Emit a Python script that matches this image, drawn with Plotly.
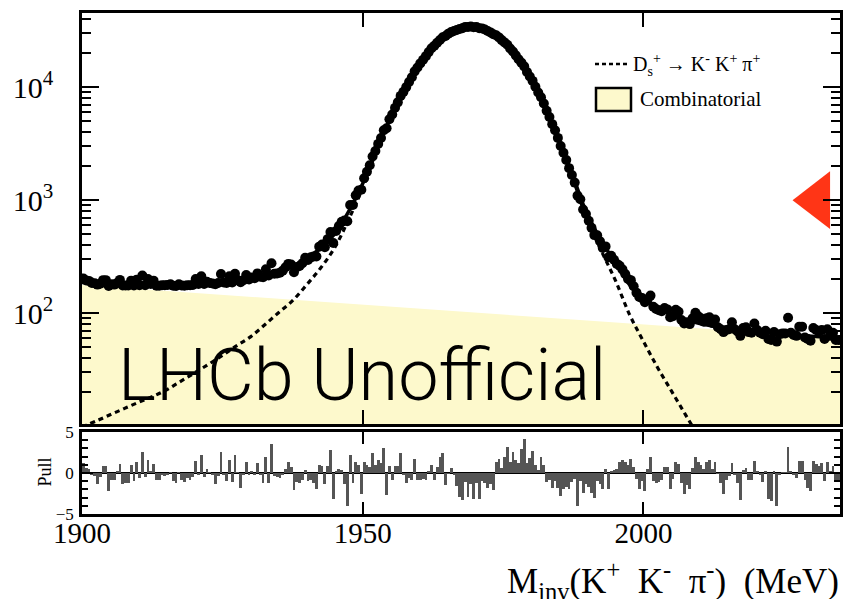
import numpy as np
import plotly.graph_objects as go

# ---------------- data ----------------
BIN_LO, BIN_W, N_BINS = 1900.0, 0.5, 270

data_counts = [
    203, 195, 193, 185, 184, 179, 182, 196, 196, 174,
    180, 179, 185, 197, 176, 176, 176, 194, 176, 198,
    177, 215, 177, 201, 181, 194, 175, 175, 177, 177,
    178, 180, 175, 174, 180, 176, 175, 177, 177, 178,
    201, 181, 212, 181, 190, 185, 183, 180, 185, 222,
    187, 185, 212, 187, 223, 196, 188, 196, 218, 199,
    207, 204, 225, 210, 208, 245, 216, 277,
    223, 225, 228, 238, 255, 273, 269, 230, 255, 262,
    277, 309, 296, 312, 318, 317, 388, 405, 383, 452,
    522, 418, 534, 590, 643, 660, 650, 907, 907, 1104,
    1219, 1237, 1564, 1784, 2040, 2437, 2725, 3151, 3556, 4162,
    4334, 5204, 5740, 6571, 7346, 8378, 9101, 10025, 11130, 12244,
    13817, 14924, 16253, 17527, 18843, 20460, 22127, 23270, 24724, 26225,
    27646, 28422, 29801, 30751, 31470, 32094, 32761, 33213,
    34196, 34090, 34440, 34005, 34118, 33331, 33177, 32433, 31479, 30584,
    29398, 28817, 27611, 26117, 24938, 23728, 22017, 20731, 19140, 17669,
    16498, 15301, 13639, 12459, 11374, 10087, 8988, 8155, 7174, 6183,
    5452, 4712, 4155, 3559, 3017, 2632, 2269, 1922, 1669, 1431,
    1097, 1020, 828, 756, 658, 569, 491, 489, 433, 378,
    390, 312, 322, 297, 273, 263, 244, 222, 201, 196,
    173, 152, 139, 136, 125, 133, 143, 114,
    109, 106, 104, 111, 108, 92, 94, 107, 103, 87,
    81, 83, 80, 90, 101, 94, 90, 84, 90, 92,
    82, 88, 75, 72, 68, 71, 72, 83, 72, 69,
    63, 74, 75, 68, 67, 81, 71, 67, 65, 70,
    59, 58, 68, 56, 65, 66, 66, 91, 67, 64,
    63, 76, 76, 61, 59, 57, 74, 71, 69, 71,
    59, 72, 63, 67, 58, 58,
]

pulls = [
    1.2, 0.6, 0.5, -0.2, -0.4, -1.4, -0.5, 0.9, 0.9, -2.2,
    -0.8, -0.9, 0.2, 1.1, -1.4, -1.2, -1.2, 1.0, -1.0, 1.3,
    -0.6, 2.6, -0.5, 1.6, 0.2, 1.1, -0.8, -0.8, -0.3, -0.4,
    -0.2, 0.1, -1.0, -1.2, 0.1, -0.9, -1.1, -0.6, -0.9, -0.5,
    1.5, -0.2, 2.2, -0.5, 0.5, 0.1, -0.3, -1.4, -0.4, 2.6,
    -0.2, -1.0, 1.6, -1.1, 2.2, 0.1, -1.8, -0.3, 1.4, -0.3,
    0.3, -0.2, 1.2, -0.2, -1.2, 1.9, -1.2, 3.5,
    -0.4, -0.5, -0.6, -0.3, 0.5, 1.3, 0.7, -2.1, -1.1, -1.2,
    -0.9, 0.4, -1.0, -0.8, -1.2, -2.0, 1.0, 0.9, -1.4, 0.8,
    2.8, -3.2, 0.3, 0.5, 0.4, -1.3, -4.0, 2.2, -1.2, 1.4,
    1.0, -2.5, 1.4, 1.0, 0.7, 2.5, 1.0, 1.6, 1.2, 3.1,
    -2.7, 0.9, -0.8, 0.9, 0.8, 2.5, -0.3, -1.2, -0.6, -0.9,
    1.7, -0.8, -0.9, -0.7, -0.9, 0.3, 1.0, -0.8, 0.7, 2.0,
    2.4, -1.5, -0.1, 0.6, -0.2, -1.6, -2.9, -3.3,
    -1.1, -2.9, -1.4, -3.2, -1.2, -3.2, -1.0, -1.2, -1.8, -1.4,
    -2.1, 1.4, 1.7, 0.6, 1.9, 3.2, 1.4, 2.6, 1.6, 1.2,
    2.9, 4.2, 1.2, 1.8, 2.7, 1.0, 0.4, 1.9, 1.0, -1.1,
    -0.9, -1.8, -1.0, -1.8, -2.8, -2.0, -1.7, -2.0, -1.1, -0.7,
    -4.0, -1.0, -2.4, -1.4, -1.7, -2.4, -3.1, -1.0, -1.3, -2.0,
    0.5, -1.9, 0.3, 0.4, 0.5, 1.4, 1.6, 1.4, 1.0, 1.7,
    0.7, -0.7, -2.0, -1.0, -2.2, 0.5, 1.9, -1.0,
    -1.2, -1.1, -0.9, 0.7, 0.7, -1.9, -0.7, 1.3, 1.1, -1.2,
    -2.6, -1.5, -2.0, 0.6, 2.0, 1.4, 1.0, 0.5, 1.3, 1.6,
    0.5, 1.3, -0.1, -1.2, -2.6, -0.9, -0.4, 1.2, -0.2, -1.2,
    -3.3, 0.4, 0.6, -0.8, -0.9, 1.5, 0.3, -0.3, -1.1, 0.3,
    -3.2, -3.4, 0.2, -4.0, -0.2, 0.1, 0.1, 3.2, 0.3, -0.2,
    -0.6, 1.5, 1.5, -0.8, -1.8, -2.2, 1.5, 1.1, 0.9, 1.2,
    -1.0, 1.4, 0.3, 0.8, -0.9, -0.9,
]

curve_mass = [
    1900.0, 1902.5, 1905.0, 1907.5, 1910.0, 1912.5, 1915.0, 1917.5, 1920.0, 1922.5,
    1925.0, 1927.5, 1930.0, 1932.5, 1935.0, 1937.5, 1940.0, 1942.5, 1945.0, 1947.5,
    1950.0, 1952.5, 1955.0, 1957.5, 1960.0, 1962.5, 1965.0, 1967.5, 1970.0, 1972.5,
    1975.0, 1977.5, 1980.0, 1982.5, 1985.0, 1987.5, 1990.0, 1992.5, 1995.0, 1997.5,
    2000.0, 2002.5, 2005.0, 2007.5, 2010.0, 2012.5, 2015.0, 2017.5, 2020.0, 2022.5,
    2025.0, 2027.5, 2030.0, 2032.5, 2035.0,
]
signal_curve = [
    9.8, 11.1, 12.6, 14.3, 16.2, 18.2, 20.9, 24.8, 29.5, 35.2,
    42.2, 51.3, 61.7, 78.5, 101, 129, 178, 251, 380, 676,
    1288, 2754, 5370, 9550, 15670, 22700, 29310, 33650, 34360, 31260,
    25230, 18110, 11590, 6607, 3311, 1514, 661, 355, 195, 97.7,
    56.2, 33.1, 20.4, 12.6, 7.8, 4.8, 3.0, 1.8, 1.1, 0.7,
    0.4, 0.25, 0.15, 0.1, 0.06,
]
combinatorial_curve = [
    177.4, 173.9, 170.4, 167.1, 163.8, 160.5, 157.3, 154.2, 151.1, 148.1,
    145.2, 142.2, 139.4, 136.6, 134.0, 131.2, 128.7, 126.1, 123.6, 121.1,
    118.7, 116.4, 114.0, 111.8, 109.5, 107.4, 105.2, 103.1, 101.1, 99.1,
    97.1, 95.2, 93.3, 91.4, 89.6, 87.8, 86.1, 84.4, 82.7, 81.0,
    79.4, 77.9, 76.3, 74.8, 73.3, 71.9, 70.4, 69.0, 67.7, 66.3,
    65.0, 63.7, 62.4, 61.2, 60.0,
]
total_curve = [
    187.2, 185.0, 183.0, 181.4, 180.0, 178.7, 178.2, 179.0, 180.6, 183.3,
    187.4, 193.5, 201.1, 215.1, 235, 260, 307, 377, 504, 797,
    1407, 2870, 5484, 9662, 15780, 22807, 29415, 33753, 34461, 31359,
    25327, 18205, 11683, 6698, 3401, 1602, 747, 439, 278, 178.7,
    135.6, 111.0, 96.7, 87.4, 81.1, 76.7, 73.4, 70.8, 68.8, 67.0,
    65.4, 64.0, 62.6, 61.3, 60.1,
]

marker_mass = [2031.0]
marker_value = [1000.0]

x_tick_vals = [1900, 1950, 2000]
y_tick_vals = [100, 1000, 10000]
y_tick_text = ["10<sup>2</sup>", "10<sup>3</sup>", "10<sup>4</sup>"]
y_minor_vals = [20, 30, 40, 50, 60, 70, 80, 90,
                200, 300, 400, 500, 600, 700, 800, 900,
                2000, 3000, 4000, 5000, 6000, 7000, 8000, 9000,
                20000, 30000, 40000]
pull_tick_vals = [-5, 0, 5]
pull_tick_text = ["\u22125", "0", "5"]
pull_minor_vals = [-4, -3, -2, -1, 1, 2, 3, 4]

bin_centres = BIN_LO + BIN_W * (np.arange(N_BINS) + 0.5)

# ---------------- geometry helpers ----------------
W, H = 845, 599
ML, MR, MT, MB = 82, 5, 13, 85
PW, PH = W - ML - MR, H - MT - MB


def px(xp):
    return (xp - ML) / PW


def py(yp):
    return (H - MB - yp) / PH


SERIF = "Liberation Serif, Times New Roman, serif"
YELLOW = "#fdf9cc"
NB = "\u00a0"

fig = go.Figure()

fig.add_trace(go.Scatter(x=curve_mass, y=combinatorial_curve, mode="lines",
                         line=dict(width=0, color=YELLOW), fill="tozeroy",
                         fillcolor=YELLOW, xaxis="x", yaxis="y", hoverinfo="skip"))
fig.add_trace(go.Scatter(x=curve_mass, y=signal_curve, mode="lines",
                         line=dict(color="black", width=3.2, dash="5px,4px", shape="spline"),
                         xaxis="x", yaxis="y"))
fig.add_trace(go.Scatter(x=curve_mass, y=total_curve, mode="lines",
                         line=dict(color="black", width=3.5, shape="spline"),
                         xaxis="x", yaxis="y"))
fig.add_trace(go.Scatter(x=bin_centres, y=data_counts, mode="markers",
                         marker=dict(color="black", size=10, line=dict(width=0)),
                         xaxis="x", yaxis="y"))
fig.add_trace(go.Scatter(x=marker_mass, y=marker_value, mode="markers",
                         marker=dict(color="#ff2a0a", size=50, symbol="triangle-left",
                                     line=dict(width=0), opacity=0.95),
                         cliponaxis=False, xaxis="x", yaxis="y"))
fig.add_trace(go.Bar(x=bin_centres, y=pulls, width=BIN_W,
                     marker=dict(color="#555555", line=dict(width=0)),
                     xaxis="x2", yaxis="y2"))

axis_common = dict(showline=True, linecolor="black", linewidth=2.5, mirror="allticks",
                   ticks="inside", tickcolor="black", showgrid=False, zeroline=False,
                   automargin=False)

fig.update_layout(
    width=W, height=H,
    margin=dict(l=ML, r=MR, t=MT, b=MB, autoexpand=False),
    paper_bgcolor="white", plot_bgcolor="white",
    showlegend=False, bargap=0,
    xaxis=dict(domain=[0, 1], anchor="y", range=[1900, 2035], tickvals=x_tick_vals,
               ticklen=14, tickwidth=2, showticklabels=False, **axis_common),
    yaxis=dict(domain=[py(424), 1], anchor="x", type="log", range=[1.019, 4.657],
               tickvals=y_tick_vals, ticktext=y_tick_text, ticklen=17, tickwidth=2,
               tickfont=dict(family=SERIF, size=30, color="black"),
               ticklabelstandoff=20,
               minor=dict(tickvals=y_minor_vals, ticklen=9, tickwidth=1.5,
                          tickcolor="black", ticks="inside"),
               **axis_common),
    xaxis2=dict(domain=[0, 1], anchor="y2", matches="x", range=[1900, 2035],
                tickvals=x_tick_vals, ticklen=12, tickwidth=2,
                tickfont=dict(family=SERIF, size=29, color="black"),
                ticklabelstandoff=-9,
                **axis_common),
    yaxis2=dict(domain=[0, py(432)], anchor="x2", range=[-5, 5],
                tickvals=pull_tick_vals, ticktext=pull_tick_text, ticklen=11, tickwidth=2,
                tickfont=dict(family=SERIF, size=17, color="black"),
                ticklabelstandoff=2,
                minor=dict(tickvals=pull_minor_vals, ticklen=6, tickwidth=1.5,
                           tickcolor="black", ticks="inside"),
                showline=True, linecolor="black", linewidth=2.5, mirror="allticks",
                ticks="inside", tickcolor="black", showgrid=False, automargin=False,
                zeroline=True, zerolinecolor="black", zerolinewidth=2),
)

title_text = ("M<sub>inv</sub>(K<sup>+</sup>" + NB + NB + "K<sup>-</sup>" + NB + NB
              + "\u03c0<sup>-</sup>)" + NB + NB + "(MeV)")

annotations = [
    dict(x=px(116), y=py(375), text="LHCb Unofficial", showarrow=False,
         xanchor="left", yanchor="middle",
         font=dict(family="Roboto, Lato, sans-serif", size=72, color="black", weight=300)),
    dict(x=px(631), y=py(65), text="D<sub>s</sub><sup>+</sup> \u2192 K<sup>-</sup> K<sup>+</sup> \u03c0<sup>+</sup>",
         showarrow=False, xanchor="left", yanchor="middle",
         font=dict(family=SERIF, size=20, color="black")),
    dict(x=px(638), y=py(99), text="Combinatorial", showarrow=False,
         xanchor="left", yanchor="middle",
         font=dict(family=SERIF, size=21, color="black")),
    dict(x=px(44.5), y=py(472), text="Pull", showarrow=False, textangle=-90,
         xanchor="center", yanchor="middle",
         font=dict(family=SERIF, size=18, color="black")),
    dict(x=px(841), y=py(580), text=title_text,
         showarrow=False, xanchor="right", yanchor="middle",
         font=dict(family=SERIF, size=35, color="black")),
]
for a in annotations:
    a.update(xref="paper", yref="paper")
fig.update_layout(annotations=annotations)

fig.update_layout(shapes=[
    dict(type="line", xref="paper", yref="paper", x0=px(595), x1=px(628), y0=py(64), y1=py(64),
         line=dict(color="black", width=2.5, dash="4px,3px")),
    dict(type="rect", xref="paper", yref="paper", x0=px(596), x1=px(631), y0=py(111), y1=py(88),
         fillcolor=YELLOW, line=dict(color="black", width=2.5)),
])

fig.write_html("out.html",
               config={"displayModeBar": False},
               post_script="document.body.style.margin='0px';"
                           "document.body.style.overflow='hidden';")
